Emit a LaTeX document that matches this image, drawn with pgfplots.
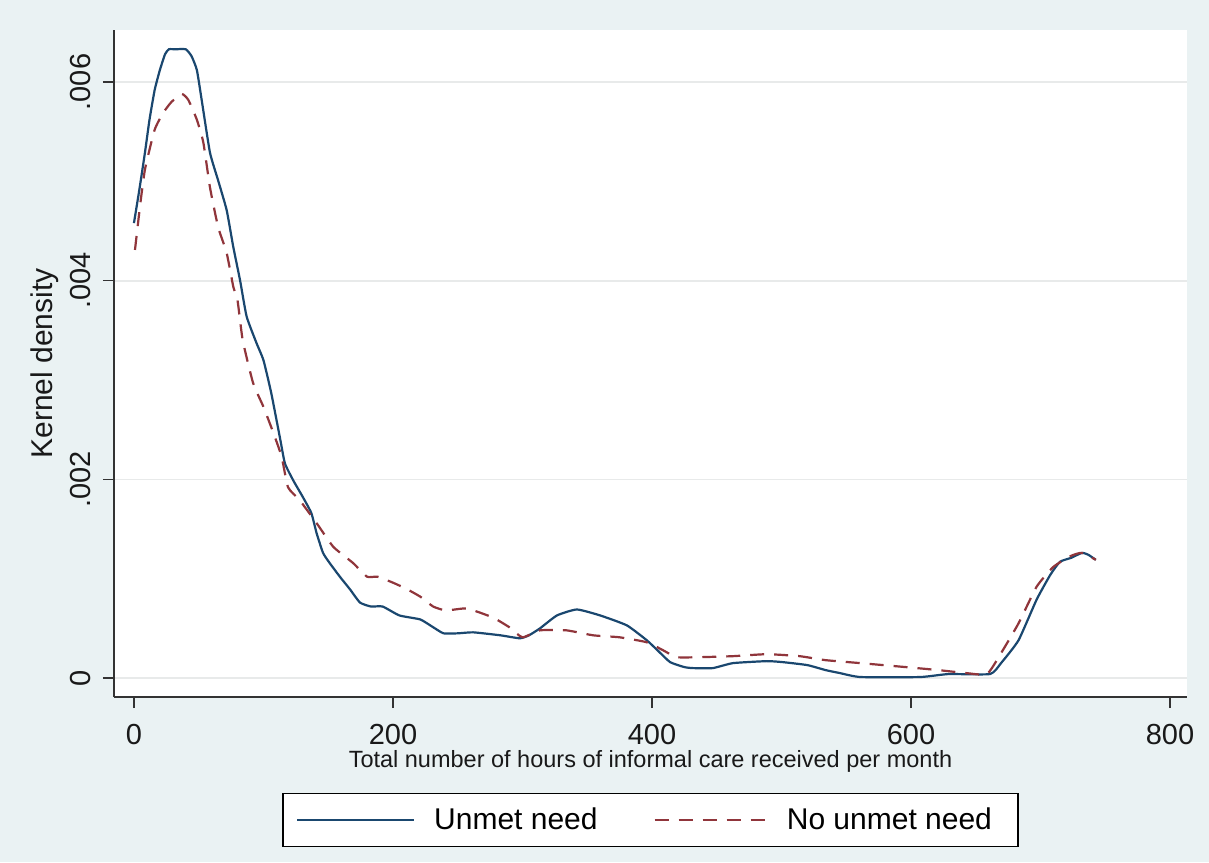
\documentclass[border=0pt]{standalone}
\usepackage{fontspec}
\setmainfont{Liberation Sans}
\usepackage{pgfplots}
\pgfplotsset{compat=1.18}
\definecolor{stnavy}{RGB}{26,71,111}
\definecolor{stmaroon}{RGB}{144,53,59}
\definecolor{bgc}{RGB}{234,242,243}
\definecolor{gridc}{RGB}{232,234,234}
\begin{document}
\begin{tikzpicture}[x=1pt,y=1pt]
\fill[bgc] (0,0) rectangle (604.5,431);
\begin{axis}[
 at={(57pt,82.5pt)}, anchor=south west,
 scale only axis, width=536.5pt, height=333.5pt,
 xmin=-15.4, xmax=813.1, ymin=-0.000191, ymax=0.006524,
 axis x line*=bottom, axis y line*=left,
 axis line style={-, black!80, line width=0.6pt},
 axis background/.style={fill=white},
 xtick={0,200,400,600,800},
 ytick={0,0.002,0.004,0.006},
 yticklabels={0,.002,.004,.006},
 scaled y ticks=false,
 tick align=outside, major tick length=5.5pt,
 tick style={black!80, line width=0.6pt},
 ymajorgrids, grid style={gridc, line width=0.8pt},
 /pgf/number format/assume math mode=true,
 ticklabel style={font=\fontsize{14.5}{17}\selectfont, text=black!90},
 yticklabel style={rotate=90, anchor=south, inner ysep=6pt},
 xticklabel style={inner ysep=7.8pt},
 xlabel={Total number of hours of informal care received per month},
 xlabel style={font=\fontsize{11.75}{13}\selectfont, text=black!90, at={(axis description cs:0.5,-0.1064)}, anchor=base},
 ylabel={Kernel density},
 ylabel style={font=\fontsize{15}{18}\selectfont, text=black!90, at={(axis description cs:-0.057,0.5)}, anchor=base},
 legend columns=2,
 legend style={at={(axis description cs:0.5,-0.144)}, anchor=north, draw=black, line width=0.6pt, fill=white,
   inner xsep=6.5pt, inner ysep=5pt, font=\fontsize{15}{18}\selectfont,
   nodes={inner xsep=0pt},
   /tikz/every even column/.append style={column sep=28pt}},
 legend image code/.code={\draw[#1] (0pt,0pt) -- (58.5pt,0pt);},
]
\addplot[stnavy, line width=1.1pt, smooth, tension=0.3] coordinates {
(0,0.00458) (4.1,0.00491) (8.5,0.00529) (12,0.00562) (16,0.00592) (20,0.00612) (24,0.00628) (27,0.00633) (32,0.00633) (40,0.00633)
(44.5,0.00626) (48.6,0.00612) (52.3,0.00582) (58.7,0.00529) (65,0.00501) (71.6,0.00471) (76.7,0.00434) (82,0.00400) (87,0.00364)
(94.7,0.00337) (100,0.00320) (106,0.00287) (113,0.00240) (116.6,0.00216) (123,0.00199) (130.5,0.00182) (137,0.00166) (141,0.00146)
(146,0.00126) (151,0.00116) (159,0.00102) (167,0.00089) (174.5,0.00076) (183,0.00072) (192,0.00072) (205,0.00063) (221,0.00059)
(230,0.00052) (239,0.00045) (250,0.00045) (262,0.00046) (283,0.00043) (298,0.00040) (305,0.00043) (313.5,0.00050) (326.6,0.00063)
(342,0.00069) (360,0.00063) (380.6,0.00053) (396,0.00038) (405,0.00027) (414,0.00016) (425,0.00011) (431.6,0.00010) (447,0.00010)
(462.5,0.00015) (488.6,0.00017) (501,0.00016) (520,0.00013) (534,0.00008) (545,0.00005) (561,0.00001) (607,0.00001) (629,0.00004)
(661,0.00004) (669.5,0.00015) (683,0.00038) (697,0.00079) (707.6,0.00104) (715,0.00117) (723.6,0.00121) (732,0.00126) (737,0.00124)
(742.7,0.00119)
};
\addlegendentry{\hspace{9.5pt}Unmet need}
\addplot[stmaroon, line width=1.1pt, dash pattern=on 7pt off 5pt, smooth, tension=0.3] coordinates {
(0.8,0.00431) (4.6,0.00474) (8.5,0.00512) (16,0.00552) (22.6,0.00569) (29,0.00580) (37,0.00588) (42,0.00582) (48.6,0.00562)
(53.6,0.00539) (58.7,0.00494) (65,0.00454) (71.6,0.00428) (76.7,0.00394) (80,0.00380) (84,0.00340) (92,0.00297) (100,0.00273)
(107.6,0.00247) (114,0.00223) (119,0.00192) (128,0.00179) (141,0.00156) (154,0.00132) (169,0.00116) (180,0.00102) (188,0.00102)
(200,0.00096) (210,0.00090) (221,0.00082) (231,0.00072) (241,0.00068) (257,0.00070) (277,0.00061) (290,0.00051) (300,0.00041)
(313.5,0.00048) (334,0.00048) (354.6,0.00043) (375,0.00041) (396,0.00036) (408.5,0.00028) (419,0.00021) (437,0.00021) (462.5,0.00022)
(488.6,0.00024) (514,0.00022) (534,0.00018) (561,0.00015) (596,0.00011) (621,0.00008) (642.5,0.00005) (658.7,0.00004) (669.5,0.00025)
(683,0.00055) (697,0.00092) (710,0.00112) (723.6,0.00123) (732,0.00126) (742.7,0.00119)
};
\addlegendentry{\hspace{7pt}No unmet need\hspace*{6.5pt}\null}
\end{axis}
\end{tikzpicture}
\end{document}
